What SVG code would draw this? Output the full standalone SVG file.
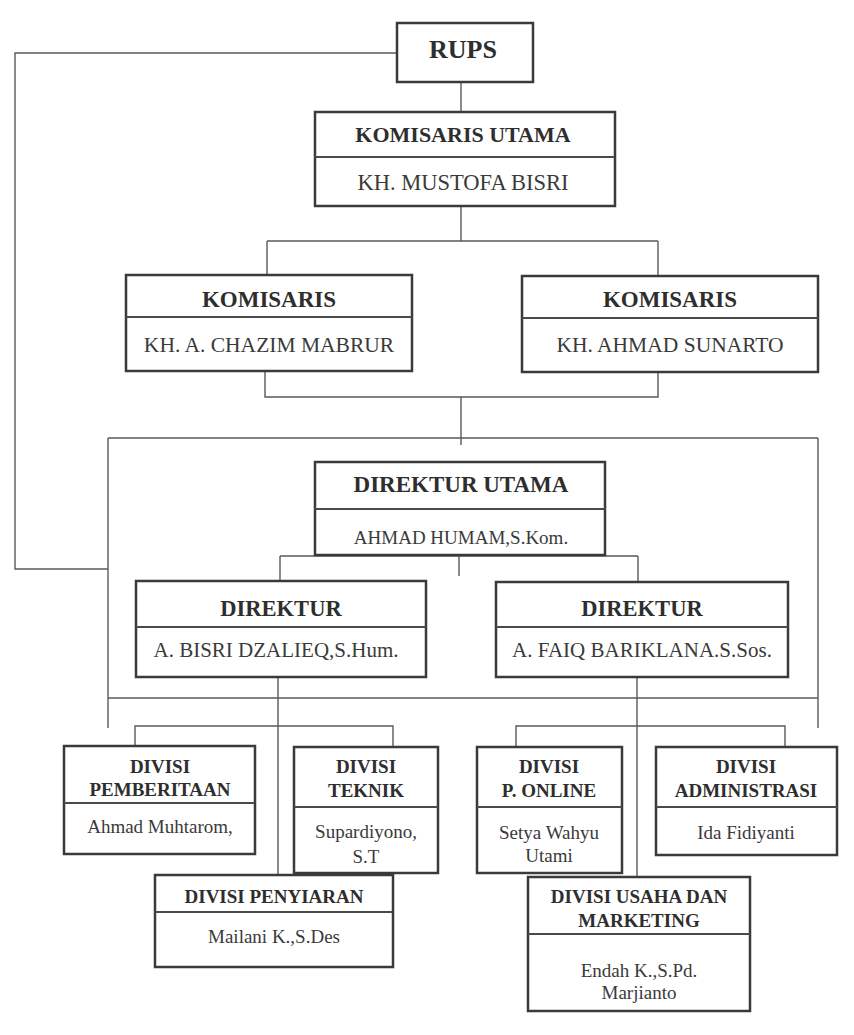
<svg xmlns="http://www.w3.org/2000/svg" width="854" height="1035" viewBox="0 0 854 1035">
<style>
.box{fill:#fff;stroke:#3a3a3a;stroke-width:2.5}
.div{stroke:#4a4a4a;stroke-width:2}
.conn{fill:none;stroke:#5a5a5a;stroke-width:1.4}
text{font-family:"Liberation Serif","Times New Roman",serif;text-anchor:middle}
.t{font-weight:bold;fill:#2e2e2e}
.n{fill:#3a3a3a}
</style>
<rect width="854" height="1035" fill="#fff"/>
<g id="connectors" class="conn">
<path d="M397 53H15V569H108"/>
<path d="M461 82V112"/>
<path d="M461 206V241M267 241H658M267 241V276M658 241V276"/>
<path d="M265 371V397H658V372M461 397V445"/>
<path d="M108 438H818M108 438V728M818 438V728"/>
<path d="M459 555V576M280 556H638M280 556V582M638 556V582"/>
<path d="M108 698H818"/>
<path d="M278 677V875M637 677V877"/>
<path d="M135 746V726H393V747"/>
<path d="M516 747V726H785V747"/>
</g>
<g id="rups">
<rect class="box" x="397" y="23" width="136" height="59"/>
<text class="t" x="463" y="58" font-size="26">RUPS</text>
</g>
<g id="komisaris-utama">
<rect class="box" x="315" y="112" width="300" height="94"/>
<line class="div" x1="315" y1="157" x2="615" y2="157"/>
<text class="t" x="463" y="142" font-size="22">KOMISARIS UTAMA</text>
<text class="n" x="463" y="190" font-size="22.5">KH. MUSTOFA BISRI</text>
</g>
<g id="komisaris-1">
<rect class="box" x="126" y="275" width="286" height="96"/>
<line class="div" x1="126" y1="317" x2="412" y2="317"/>
<text class="t" x="269" y="307" font-size="23">KOMISARIS</text>
<text class="n" x="269" y="352" font-size="21.5">KH. A. CHAZIM MABRUR</text>
</g>
<g id="komisaris-2">
<rect class="box" x="522" y="276" width="296" height="96"/>
<line class="div" x1="522" y1="318" x2="818" y2="318"/>
<text class="t" x="670" y="307" font-size="23">KOMISARIS</text>
<text class="n" x="670" y="352" font-size="21.5">KH. AHMAD SUNARTO</text>
</g>
<g id="direktur-utama">
<rect class="box" x="315" y="462" width="290" height="93"/>
<line class="div" x1="315" y1="509" x2="605" y2="509"/>
<text class="t" x="461" y="492" font-size="23">DIREKTUR UTAMA</text>
<text class="n" x="461" y="544" font-size="19">AHMAD HUMAM,S.Kom.</text>
</g>
<g id="direktur-1">
<rect class="box" x="136" y="581" width="290" height="96"/>
<line class="div" x1="136" y1="627" x2="426" y2="627"/>
<text class="t" x="281" y="616" font-size="22.5">DIREKTUR</text>
<text class="n" x="276" y="657" font-size="21">A. BISRI DZALIEQ,S.Hum.</text>
</g>
<g id="direktur-2">
<rect class="box" x="496" y="582" width="292" height="95"/>
<line class="div" x1="496" y1="627" x2="788" y2="627"/>
<text class="t" x="642" y="616" font-size="22.5">DIREKTUR</text>
<text class="n" x="642" y="657" font-size="21">A. FAIQ BARIKLANA.S.Sos.</text>
</g>
<g id="divisi-pemberitaan">
<rect class="box" x="64" y="746" width="191" height="108"/>
<line class="div" x1="64" y1="803" x2="255" y2="803"/>
<text class="t" x="160" y="773" font-size="19">DIVISI</text>
<text class="t" x="160" y="796" font-size="19">PEMBERITAAN</text>
<text class="n" x="160" y="833" font-size="19">Ahmad Muhtarom,</text>
</g>
<g id="divisi-teknik">
<rect class="box" x="294" y="747" width="144" height="126"/>
<line class="div" x1="294" y1="807" x2="438" y2="807"/>
<text class="t" x="366" y="773" font-size="19">DIVISI</text>
<text class="t" x="366" y="797" font-size="19">TEKNIK</text>
<text class="n" x="366" y="838" font-size="19">Supardiyono,</text>
<text class="n" x="366" y="863" font-size="19">S.T</text>
</g>
<g id="divisi-penyiaran">
<rect class="box" x="155" y="875" width="238" height="92"/>
<line class="div" x1="155" y1="912" x2="393" y2="912"/>
<text class="t" x="274" y="903" font-size="19">DIVISI PENYIARAN</text>
<text class="n" x="274" y="943" font-size="19">Mailani K.,S.Des</text>
</g>
<g id="divisi-online">
<rect class="box" x="477" y="747" width="145" height="126"/>
<line class="div" x1="477" y1="807" x2="622" y2="807"/>
<text class="t" x="549" y="773" font-size="19">DIVISI</text>
<text class="t" x="549" y="797" font-size="19">P. ONLINE</text>
<text class="n" x="549" y="839" font-size="19">Setya Wahyu</text>
<text class="n" x="549" y="862" font-size="19">Utami</text>
</g>
<g id="divisi-administrasi">
<rect class="box" x="656" y="747" width="181" height="108"/>
<line class="div" x1="656" y1="807" x2="837" y2="807"/>
<text class="t" x="746" y="773" font-size="19">DIVISI</text>
<text class="t" x="746" y="797" font-size="19">ADMINISTRASI</text>
<text class="n" x="746" y="839" font-size="19">Ida Fidiyanti</text>
</g>
<g id="divisi-usaha">
<rect class="box" x="528" y="877" width="222" height="134"/>
<line class="div" x1="528" y1="934" x2="750" y2="934"/>
<text class="t" x="639" y="903" font-size="19">DIVISI USAHA DAN</text>
<text class="t" x="639" y="927" font-size="19">MARKETING</text>
<text class="n" x="639" y="977" font-size="19">Endah K.,S.Pd.</text>
<text class="n" x="639" y="999" font-size="19">Marjianto</text>
</g>
</svg>
